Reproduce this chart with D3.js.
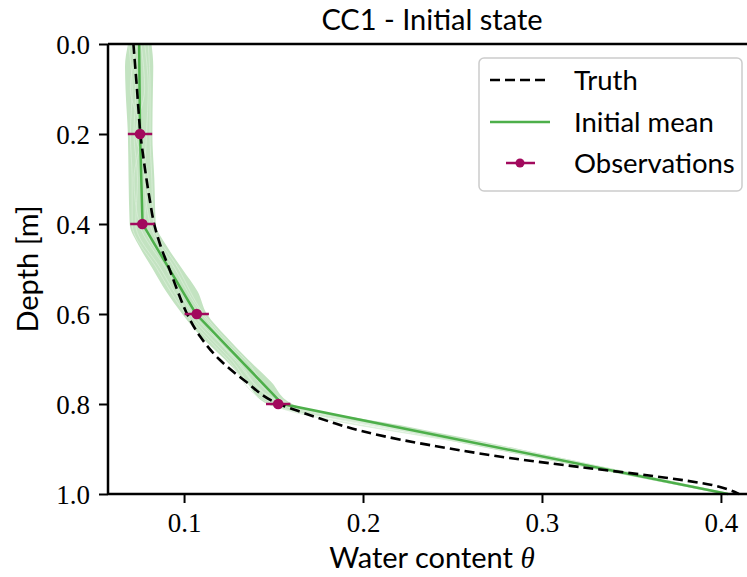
<!DOCTYPE html>
<html>
<head>
<meta charset="utf-8">
<script src="https://cdn.jsdelivr.net/npm/d3@7"></script>
<style>
  html, body { margin: 0; padding: 0; background: #fff; }
  svg { display: block; }
</style>
</head>
<body>
<svg id="chart" width="747" height="577"></svg>
<script>
// Reference profile (truth)
const truthDepth = [0, 0.05, 0.1, 0.15, 0.2, 0.25, 0.3, 0.35, 0.4, 0.45, 0.5, 0.55, 0.6, 0.65, 0.7, 0.75, 0.8, 0.82, 0.84, 0.86, 0.88, 0.9, 0.92, 0.94, 0.96, 0.97, 0.98, 0.99, 1.0];
const truthTheta = [0.0717, 0.0727, 0.0737, 0.0746, 0.0756, 0.0772, 0.0790, 0.0810, 0.0833, 0.0870, 0.0918, 0.0965, 0.1017, 0.1090, 0.1195, 0.1345, 0.153, 0.167, 0.182, 0.199, 0.222, 0.250, 0.282, 0.321, 0.362, 0.380, 0.395, 0.404, 0.410];

// Ensemble mean of the initial state
const meanDepth = [0, 0.2, 0.4, 0.6, 0.8, 1.0];
const meanTheta = [0.0749, 0.0754, 0.0768, 0.1067, 0.155, 0.404];

// Ensemble spread (min / max of the members)
const envDepth = [0, 0.05, 0.1, 0.2, 0.3, 0.4, 0.45, 0.5, 0.55, 0.6, 0.65, 0.7, 0.75, 0.8, 0.85, 0.9, 0.95, 1.0];
const envLow  = [0.0687, 0.0670, 0.0673, 0.0686, 0.0690, 0.0696, 0.0750, 0.0825, 0.0900, 0.0990, 0.1095, 0.1225, 0.1345, 0.1465, 0.2100, 0.2720, 0.3365, 0.4012];
const envHigh = [0.0818, 0.0828, 0.0826, 0.0823, 0.0834, 0.0842, 0.0905, 0.0990, 0.1076, 0.1128, 0.1235, 0.1355, 0.1485, 0.1605, 0.2246, 0.2870, 0.3470, 0.4066];

// A few individual ensemble members
const memberDepth = [0, 0.1, 0.2, 0.3, 0.4, 0.5, 0.6, 0.7, 0.8, 0.9, 1.0];
const member1 = [0.071, 0.073, 0.072, 0.074, 0.073, 0.087, 0.103, 0.126, 0.150, 0.276, 0.402];
const member2 = [0.078, 0.080, 0.079, 0.078, 0.081, 0.095, 0.110, 0.132, 0.158, 0.284, 0.405];
const member3 = [0.074, 0.070, 0.076, 0.072, 0.075, 0.090, 0.105, 0.129, 0.154, 0.280, 0.403];
const member4 = [0.076, 0.078, 0.073, 0.080, 0.078, 0.092, 0.108, 0.128, 0.156, 0.282, 0.404];
const member5 = [0.069, 0.071, 0.070, 0.071, 0.071, 0.085, 0.101, 0.124, 0.148, 0.275, 0.402];
const member6 = [0.080, 0.081, 0.081, 0.082, 0.083, 0.097, 0.111, 0.134, 0.159, 0.285, 0.406];

// Observations with horizontal error
const obsDepth = [0.2, 0.4, 0.6, 0.8];
const obsTheta = [0.0754, 0.0767, 0.1071, 0.1526];
const obsErr   = [0.0068, 0.0068, 0.0068, 0.0068];

// Axis ticks
const xTicks = [0.1, 0.2, 0.3, 0.4];
const yTicks = [0.0, 0.2, 0.4, 0.6, 0.8, 1.0];

const legendLabels = ["Truth", "Initial mean", "Observations"];

const GREEN = "#4daf4a";
const BAND = "#c3e3c1";
const OBS = "#a2095d";
const SANS = "Lato, 'Open Sans', sans-serif";
const SERIF = "'Liberation Serif', 'DejaVu Serif', serif";

const svg = d3.select("#chart");
const L = 108, R = 756, T = 44, B = 494;

const x = d3.scaleLinear().domain([0.0575, 0.4196]).range([L, R]);
const y = d3.scaleLinear().domain([0, 1]).range([T, B]);

const plot = svg.append("g");

// Ensemble band
const bandData = envDepth.map((d, i) => ({ d, lo: envLow[i], hi: envHigh[i] }));
plot.append("path")
  .datum(bandData)
  .attr("fill", BAND)
  .attr("d", d3.area()
    .y(p => y(p.d))
    .x0(p => x(p.lo))
    .x1(p => x(p.hi))
    .curve(d3.curveMonotoneY));

// Member streaks
const lineMember = d3.line().y((v, i) => y(memberDepth[i])).x(v => x(v)).curve(d3.curveMonotoneY);
[member1, member2, member3, member4, member5, member6].forEach(m => {
  plot.append("path").datum(m)
    .attr("fill", "none")
    .attr("stroke", "#d9eed8")
    .attr("stroke-width", 0.8)
    .attr("d", lineMember);
});

// Initial mean
plot.append("path")
  .datum(meanTheta)
  .attr("fill", "none")
  .attr("stroke", GREEN)
  .attr("stroke-width", 2.5)
  .attr("d", d3.line().y((v, i) => y(meanDepth[i])).x(v => x(v)));

// Truth
plot.append("path")
  .datum(truthTheta)
  .attr("fill", "none")
  .attr("stroke", "#000")
  .attr("stroke-width", 2.6)
  .attr("stroke-dasharray", "10,5")
  .attr("d", d3.line().y((v, i) => y(truthDepth[i])).x(v => x(v)).curve(d3.curveMonotoneY));

// Observations
const obs = plot.selectAll("g.obs")
  .data(obsDepth.map((d, i) => ({ d, v: obsTheta[i], e: obsErr[i] })))
  .join("g").attr("class", "obs");
obs.append("line")
  .attr("x1", p => x(p.v - p.e)).attr("x2", p => x(p.v + p.e))
  .attr("y1", p => y(p.d)).attr("y2", p => y(p.d))
  .attr("stroke", OBS).attr("stroke-width", 2.5);
obs.append("circle")
  .attr("cx", p => x(p.v)).attr("cy", p => y(p.d))
  .attr("r", 5.3).attr("fill", OBS);

// Axes
const xAxis = svg.append("g")
  .attr("transform", `translate(0,${B})`)
  .call(d3.axisBottom(x).tickValues(xTicks).tickFormat(d3.format(".1f")).tickSize(9).tickPadding(10));
const yAxis = svg.append("g")
  .attr("transform", `translate(${L},0)`)
  .call(d3.axisLeft(y).tickValues(yTicks).tickFormat(d3.format(".1f")).tickSize(9).tickPadding(9));

[xAxis, yAxis].forEach(a => {
  a.select(".domain").attr("stroke", "#000").attr("stroke-width", 2.5);
  a.selectAll(".tick line").attr("stroke", "#000").attr("stroke-width", 2);
  a.selectAll(".tick text").attr("fill", "#000")
    .style("font-family", SERIF).style("font-size", "27px");
});
xAxis.select(".domain").attr("d", `M${L},0H${R}`);
yAxis.select(".domain").attr("d", `M0,${T}V${B}`);
yAxis.selectAll(".tick text").attr("dy", "0.36em");

// Top spine
svg.append("line")
  .attr("x1", L).attr("x2", R).attr("y1", T).attr("y2", T)
  .attr("stroke", "#000").attr("stroke-width", 2.5);

// Title and axis labels
svg.append("text")
  .attr("x", (L + R) / 2).attr("y", 30)
  .attr("text-anchor", "middle")
  .style("font-family", SANS).style("font-size", "29px")
  .text("CC1 - Initial state");

const xl = svg.append("text")
  .attr("x", (L + R) / 2).attr("y", 568)
  .attr("text-anchor", "middle")
  .style("font-family", SANS).style("font-size", "29px");
xl.append("tspan").text("Water content ");
xl.append("tspan").style("font-family", SERIF).style("font-style", "italic").text("θ");

svg.append("text")
  .attr("transform", `translate(38,${(T + B) / 2}) rotate(-90)`)
  .attr("text-anchor", "middle")
  .style("font-family", SANS).style("font-size", "29px")
  .text("Depth [m]");

// Legend
const lg = svg.append("g");
lg.append("rect")
  .attr("x", 479).attr("y", 58).attr("width", 263).attr("height", 133)
  .attr("rx", 5).attr("fill", "#fff").attr("fill-opacity", 0.8)
  .attr("stroke", "#cccccc").attr("stroke-width", 1.5);
const rowY = [80, 122, 163];
lg.append("line").attr("x1", 490).attr("x2", 550).attr("y1", rowY[0]).attr("y2", rowY[0])
  .attr("stroke", "#000").attr("stroke-width", 2.6).attr("stroke-dasharray", "10,5");
lg.append("line").attr("x1", 490).attr("x2", 550).attr("y1", rowY[1]).attr("y2", rowY[1])
  .attr("stroke", GREEN).attr("stroke-width", 2.5);
lg.append("line").attr("x1", 506).attr("x2", 535).attr("y1", rowY[2]).attr("y2", rowY[2])
  .attr("stroke", OBS).attr("stroke-width", 2.5);
lg.append("circle").attr("cx", 520).attr("cy", rowY[2]).attr("r", 4.5).attr("fill", OBS);
legendLabels.forEach((t, i) => {
  lg.append("text").attr("x", 574).attr("y", rowY[i]).attr("dy", "0.35em")
    .style("font-family", SANS).style("font-size", "27.5px").text(t);
});
</script>
</body>
</html>
